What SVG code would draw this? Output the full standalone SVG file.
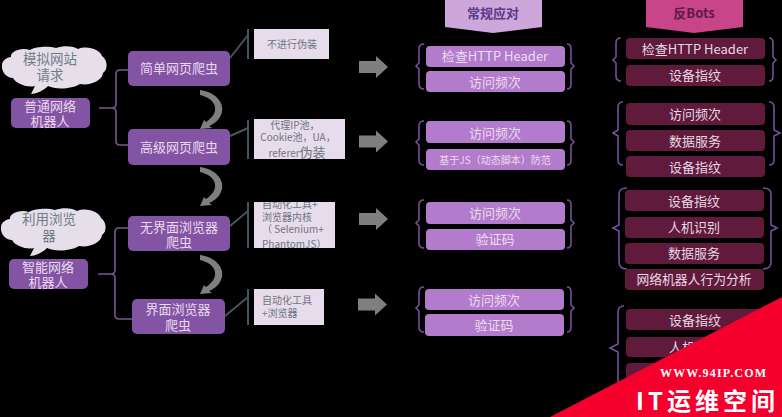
<svg xmlns="http://www.w3.org/2000/svg" width="782" height="417" viewBox="0 0 782 417">
<defs>
<style>
text{font-family:"Noto Sans CJK SC","Noto Sans",sans-serif;text-anchor:middle}
.n{fill:#8454a4}
.w{fill:#ead9ee;font-size:13px}
.c{fill:#e6dfea}
.ct{fill:#6f7c88;font-size:13.500px}
.note{fill:#e6dcec}
.nt{fill:#6f7480;font-size:10px}
.l{text-anchor:start}
.m{fill:#b27bcb}
.mt{fill:#ecdcf0;font-size:13px}
.r{fill:#5f1a3c}
.rt{fill:#e8d8e2;font-size:13px}
.br{fill:none;stroke:#75509a;stroke-width:1.6}
.bl{fill:none;stroke:#7c5495;stroke-width:1.6}
.ln{fill:none;stroke:#44535f;stroke-width:2}
.ar{fill:#7f7f7f}
</style>
<path id="cloud" class="c" d="M31 94L35 86C28 88 16 84 13 78C7 78 1 72 2 65C2 60 8 57 11 57C10 52 20 47 30 50C36 46 50 46 56 48C64 45 74 46 78 49C88 45 100 50 102 56C108 60 108 70 103 73C102 81 90 86 80 84C72 89 56 90 48 86C44 90 37 94 31 94Z"/>
<clipPath id="note3clip"><rect x="254" y="202" width="81" height="46"/></clipPath>
</defs>
<rect width="782" height="417" fill="#000"/>
<g id="connectors">
<path class="bl" d="M99 108H112Q116 108 116 104V74Q116 70 120 70H128M112 108Q116 108 116 112V141Q116 145 120 145H128"/>
<path class="bl" d="M98 274H111Q115 274 115 270V232Q115 228 119 228H128M111 274Q115 274 115 278V315Q115 319 119 319H132"/>
<path class="ln" d="M230 58L248 35M248 29V59"/>
<path class="ln" d="M230 136L248 128M248 120V159"/>
<path class="ln" d="M230 226L248 211M248 202V248"/>
<path class="ln" d="M225 316L248 297M248 289V325"/>
<path id="bend" class="ar" d="M200 90C216 92 224 103 222 112C220 120 214 124 209 126L212 128L200 129L204 120L206 122C212 118 216 113 215 107C214 101 208 97 200 95Z"/>
<use href="#bend" y="77"/>
<use href="#bend" y="165"/>
<path id="fat" class="ar" d="M359 61H376V56L388 67L376 78V73H359Z"/>
<use href="#fat" y="74.500"/>
<use href="#fat" y="152"/>
<use href="#fat" x="-1" y="237.500"/>
</g>
<g id="cloud-1"><use href="#cloud"/><text class="ct" x="50" y="64">模拟网站</text><text class="ct" x="50" y="80">请求</text></g>
<g id="node-bots-1"><rect class="n" x="11" y="98" width="79" height="30" rx="5"/><text class="w" x="50" y="111">普通网络</text><text class="w" x="50" y="126">机器人</text></g>
<g id="cloud-2"><use href="#cloud" x="-1" y="162"/><text class="ct" x="49" y="224">利用浏览</text><text class="ct" x="49" y="241">器</text></g>
<g id="node-bots-2"><rect class="n" x="9" y="259" width="79" height="30" rx="5"/><text class="w" x="48" y="272">智能网络</text><text class="w" x="48" y="287">机器人</text></g>
<g id="node-simple"><rect class="n" x="128" y="51" width="102" height="35" rx="5"/><text class="w" x="179" y="73">简单网页爬虫</text></g>
<g id="node-advanced"><rect class="n" x="128" y="129" width="102" height="36" rx="5"/><text class="w" x="179" y="152">高级网页爬虫</text></g>
<g id="node-headless"><rect class="n" x="128" y="216" width="102" height="35" rx="5"/><text class="w" x="179" y="232">无界面浏览器</text><text class="w" x="179" y="247">爬虫</text></g>
<g id="node-gui"><rect class="n" x="132" y="299" width="93" height="35" rx="5"/><text class="w" x="178" y="314">界面浏览器</text><text class="w" x="178" y="330">爬虫</text></g>
<g id="note-1"><rect class="note" x="254" y="29" width="75" height="30"/><text class="nt" x="292" y="48">不进行伪装</text></g>
<g id="note-2"><rect class="note" x="254" y="119" width="91" height="40"/><text class="nt" x="295" y="129">代理IP池，</text><text class="nt" x="298" y="141">Cookie池，UA，</text><text class="nt" x="297" y="157">referer<tspan font-size="13">伪装</tspan></text></g>
<g id="note-3"><rect class="note" x="254" y="202" width="81" height="46"/><g clip-path="url(#note3clip)"><text class="nt l" x="262" y="208">自动化工具+</text><text class="nt l" x="262" y="221">浏览器内核</text><text class="nt l" x="262" y="233">（ Selenium+</text><text class="nt l" x="262" y="248">PhantomJS）</text></g></g>
<g id="note-4"><rect class="note" x="254" y="289" width="70" height="36"/><text class="nt l" x="262" y="304">自动化工具</text><text class="nt l" x="262" y="317">+浏览器</text></g>
<g id="tab-normal"><path fill="#cda6dc" d="M445 0H542V27L493 33L445 27Z"/><text x="493" y="18" font-size="13" font-weight="700" fill="#5b3a86">常规应对</text></g>
<g id="tab-anti"><path fill="#c8458a" d="M646 0H743V27L694 33L646 27Z"/><text x="694" y="18" font-size="13" font-weight="700" fill="#5f1a4a">反Bots</text></g>
<g id="group-normal-1"><path class="br" d="M424 44Q419 44 419 49V63L416 66L419 69V84Q419 89 424 89M567 44Q571 44 571 49V63L574 66L571 69V84Q571 89 567 89"/><rect class="m" x="426" y="46" width="139" height="21" rx="4"/><text class="mt" x="495" y="61">检查HTTP Header</text><rect class="m" x="426" y="71" width="139" height="21" rx="4"/><text class="mt" x="495" y="87">访问频次</text></g>
<g id="group-normal-2"><path class="br" d="M424 121Q419 121 419 126V139L416 142L419 145V160Q419 165 424 165M567 121Q571 121 571 126V139L574 142L571 145V160Q571 165 567 165"/><rect class="m" x="426" y="121" width="139" height="22" rx="4"/><text class="mt" x="495" y="138">访问频次</text><rect class="m" x="426" y="149" width="139" height="21" rx="4"/><text class="mt" x="495" y="164" style="font-size:10px">基于JS（动态脚本）防范</text></g>
<g id="group-normal-3"><path class="br" d="M424 200Q419 200 419 205V220L416 223L419 226V243Q419 248 424 248M567 200Q571 200 571 205V220L574 223L571 226V243Q571 248 567 248"/><rect class="m" x="426" y="202" width="139" height="22" rx="4"/><text class="mt" x="495" y="218">访问频次</text><rect class="m" x="426" y="229" width="139" height="21" rx="4"/><text class="mt" x="495" y="244">验证码</text></g>
<g id="group-normal-4"><path class="br" d="M424 287Q419 287 419 292V305L416 308L419 311V327Q419 332 424 332M567 287Q571 287 571 292V305L574 308L571 311V327Q571 332 567 332"/><rect class="m" x="425" y="289" width="139" height="21" rx="4"/><text class="mt" x="494" y="305">访问频次</text><rect class="m" x="425" y="314" width="139" height="22" rx="4"/><text class="mt" x="494" y="330">验证码</text></g>
<g id="group-anti-1"><path class="br" d="M621 38Q616 38 616 43V57L613 60L616 63V76Q616 81 621 81M769 38Q773 38 773 43V57L776 60L773 63V76Q773 81 769 81"/><rect class="r" x="626" y="38" width="139" height="21" rx="4"/><text class="rt" x="695" y="54">检查HTTP Header</text><rect class="r" x="626" y="65" width="139" height="21" rx="4"/><text class="rt" x="695" y="80">设备指纹</text></g>
<g id="group-anti-2"><path class="br" d="M623 102Q618 102 618 107V130L613 133L618 136V160Q618 165 623 165M769 102Q774 102 774 107V130L780 133L774 136V160Q774 165 769 165"/><rect class="r" x="626" y="103" width="139" height="22" rx="4"/><text class="rt" x="695" y="119">访问频次</text><rect class="r" x="626" y="130" width="139" height="21" rx="4"/><text class="rt" x="695" y="146">数据服务</text><rect class="r" x="626" y="156" width="139" height="21" rx="4"/><text class="rt" x="695" y="172">设备指纹</text></g>
<g id="group-anti-3"><path class="br" d="M627 188Q619 188 619 194V225L613 228L619 231V262Q619 269 627 269M763 188Q771 188 771 194V225L777 228L771 231V262Q771 269 763 269"/><rect class="r" x="625" y="190" width="139" height="21" rx="4"/><text class="rt" x="694" y="206">设备指纹</text><rect class="r" x="625" y="217" width="139" height="21" rx="4"/><text class="rt" x="694" y="232">人机识别</text><rect class="r" x="625" y="243" width="139" height="21" rx="4"/><text class="rt" x="694" y="258">数据服务</text></g>
<g id="node-behavior"><rect class="r" x="625" y="269" width="139" height="21" rx="4"/><text class="rt" x="694" y="284" style="font-size:12.800px">网络机器人行为分析</text></g>
<g id="group-anti-4"><path class="br" d="M624 306Q618 306 618 312V344L610 348L618 352V385"/><rect class="r" x="626" y="309" width="139" height="21" rx="4"/><text class="rt" x="695" y="325">设备指纹</text><rect class="r" x="626" y="337" width="139" height="20" rx="4"/><text class="rt" x="695" y="352">人机识别</text><rect class="r" x="626" y="363" width="139" height="21" rx="4"/></g>
<g id="watermark"><path fill="#f5002d" d="M550 417L782 297V417Z"/><text x="660" y="377" font-size="12" font-weight="700" fill="#fff" textLength="106" style="font-family:'Liberation Serif',serif;text-anchor:start">WWW.94IP.COM</text><text x="636" y="410" font-size="24" font-weight="700" fill="#fff" textLength="139" style="text-anchor:start">IT运维空间</text></g>
</svg>
